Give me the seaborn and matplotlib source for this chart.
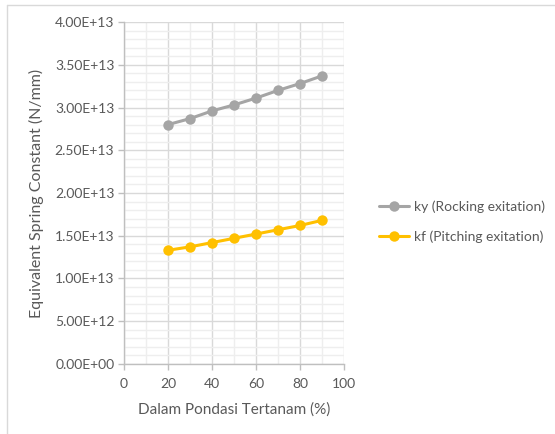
import matplotlib
matplotlib.use("Agg")
import matplotlib.pyplot as plt
from matplotlib.lines import Line2D
from matplotlib.ticker import MultipleLocator, FuncFormatter
import pandas as pd
import seaborn as sns

# embedment depth of the foundation (%)
depth = [20, 30, 40, 50, 60, 70, 80, 90]
# equivalent spring constants (N/mm)
ky_rocking = [2.80e13, 2.87e13, 2.96e13, 3.03e13, 3.11e13, 3.20e13, 3.28e13, 3.37e13]
kf_pitching = [1.33e13, 1.37e13, 1.42e13, 1.47e13, 1.52e13, 1.57e13, 1.62e13, 1.68e13]
series_names = ["ky (Rocking exitation)", "kf (Pitching exitation)"]
series_colors = ["#a5a5a5", "#ffc000"]

df = pd.DataFrame({
    "depth": depth * 2,
    "k": ky_rocking + kf_pitching,
    "series": [series_names[0]] * len(depth) + [series_names[1]] * len(depth),
})

sns.set_style("white")
plt.rcParams["font.family"] = ["Lato", "DejaVu Sans"]
text_color = "#595959"

fig = plt.figure(figsize=(5.55, 4.34), dpi=100)
ax = fig.add_axes([0.2234, 0.1613, 0.3964, 0.788])

sns.lineplot(data=df, x="depth", y="k", hue="series", palette=series_colors,
             marker="o", markersize=7.5, markeredgewidth=0, linewidth=2.2,
             ax=ax, legend=False, zorder=3)

ax.set_xlim(0, 100)
ax.set_ylim(0, 4e13)
ax.xaxis.set_major_locator(MultipleLocator(20))
ax.xaxis.set_minor_locator(MultipleLocator(10))
ax.yaxis.set_major_locator(MultipleLocator(5e12))
ax.yaxis.set_minor_locator(MultipleLocator(1e12))
ax.yaxis.set_major_formatter(FuncFormatter(lambda v, p: f"{v:.2E}"))

ax.grid(which="major", color="#d9d9d9", linewidth=1.0, zorder=0)
ax.grid(which="minor", color="#eeeeee", linewidth=1.0, zorder=0)
ax.set_axisbelow(True)

for side in ["top", "right"]:
    ax.spines[side].set_visible(False)
for side in ["left", "bottom"]:
    ax.spines[side].set_color("#bfbfbf")
    ax.spines[side].set_linewidth(1.0)

ax.tick_params(which="major", length=4, width=1, color="#bfbfbf",
               labelsize=10, labelcolor=text_color, left=True, bottom=True)
ax.tick_params(axis="x", which="major", pad=6)
ax.tick_params(axis="y", which="major", pad=3)
ax.tick_params(which="minor", length=0)

ax.set_xlabel("Dalam Pondasi Tertanam (%)", fontsize=11, color=text_color, labelpad=9)
ax.set_ylabel("Equivalent Spring Constant (N/mm)", fontsize=11.5, color=text_color, labelpad=8)

handles = [Line2D([0], [0], color=c, linewidth=2.2, marker="o", markersize=7.5,
                  markeredgewidth=0) for c in series_colors]
fig.legend(handles, series_names, loc="center left", bbox_to_anchor=(0.66, 0.49),
           frameon=False, fontsize=10, labelcolor=text_color, handlelength=2.2,
           handletextpad=0.35, labelspacing=1.25)

# chart area border (top and left edges)
fig.add_artist(Line2D([0.0126, 1.0], [0.9885, 0.9885], color="#d9d9d9", linewidth=1.0,
                      transform=fig.transFigure))
fig.add_artist(Line2D([0.0126, 0.0126], [0.0, 0.9885], color="#d9d9d9", linewidth=1.0,
                      transform=fig.transFigure))

fig.savefig("out.png", dpi=100)
